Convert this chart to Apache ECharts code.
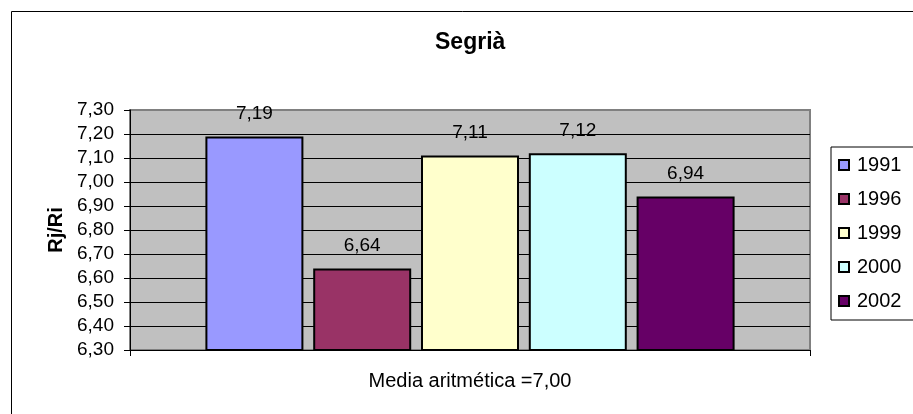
<!DOCTYPE html>
<html>
<head>
<meta charset="utf-8">
<script src="https://cdn.jsdelivr.net/npm/echarts@6/dist/echarts.min.js"></script>
<style>
html, body { margin: 0; padding: 0; background: #fff; }
#main { width: 913px; height: 414px; }
</style>
</head>
<body>
<div id="main"></div>
<script>
var categories = ['Media aritmética =7,00'];
var years = ['1991', '1996', '1999', '2000', '2002'];
var values = [7.19, 6.64, 7.11, 7.12, 6.94];
var colors = ['#9999ff', '#993366', '#ffffcc', '#ccffff', '#660066'];
var yTicks = { min: 6.3, max: 7.3, step: 0.1 };

var myChart = echarts.init(document.getElementById('main'));

function comma(v) {
	return Number(v).toFixed(2).replace('.', ',');
}

var series = [];
for (var i = 0; i < years.length; i++) {
	series.push({
		name: years[i],
		type: 'bar',
		data: [values[i]],
		barWidth: 98,
		barGap: '10%',
		itemStyle: {
			color: colors[i],
			borderColor: '#000',
			borderWidth: 2
		},
		label: {
			show: true,
			position: 'top',
			distance: 13,
			fontFamily: 'Liberation Sans',
			fontSize: 19,
			color: '#000',
			formatter: function(p) { return comma(p.value); }
		}
	});
}

var option = {
	animation: false,
	graphic: [{
		type: 'rect',
		shape: { x: 11.5, y: 11.5, width: 940, height: 440 },
		style: { fill: 'none', stroke: '#000', lineWidth: 1 },
		z: 0
	}],
	title: {
		text: 'Segrià',
		left: 430,
		top: 26,
		textStyle: {
			fontFamily: 'Liberation Sans',
			fontSize: 23,
			fontWeight: 'bold',
			color: '#000'
		}
	},
	legend: {
		orient: 'vertical',
		left: 831,
		top: 147,
		padding: [8, 20, 9, 7],
		itemWidth: 10,
		itemHeight: 10,
		itemGap: 14,
		icon: 'rect',
		borderColor: '#000',
		borderWidth: 1,
		textStyle: {
			fontFamily: 'Liberation Sans',
			fontSize: 20,
			color: '#000',
			padding: [0, 0, 0, 3]
		},
		data: years
	},
	grid: {
		left: 130,
		right: 103,
		top: 110,
		bottom: 64,
		show: true,
		backgroundColor: '#c0c0c0',
		borderColor: '#808080',
		borderWidth: 2
	},
	xAxis: {
		type: 'category',
		data: categories,
		axisLine: { lineStyle: { color: '#000', width: 1 } },
		axisTick: { show: true, length: 6, lineStyle: { color: '#000' } },
		axisLabel: {
			margin: 21,
			fontFamily: 'Liberation Sans',
			fontSize: 20,
			color: '#000'
		}
	},
	yAxis: {
		type: 'value',
		min: yTicks.min,
		max: yTicks.max,
		interval: yTicks.step,
		name: 'Rj/Ri',
		nameLocation: 'middle',
		nameGap: 60,
		nameTextStyle: {
			fontFamily: 'Liberation Sans',
			fontSize: 20,
			fontWeight: 'bold',
			color: '#000'
		},
		axisLine: { show: true, lineStyle: { color: '#000', width: 1 } },
		axisTick: { show: true, length: 6, lineStyle: { color: '#000' } },
		axisLabel: {
			margin: 16,
			fontFamily: 'Liberation Sans',
			fontSize: 19,
			color: '#000',
			formatter: comma
		},
		splitLine: {
			show: true,
			showMaxLine: false,
			lineStyle: { color: '#000', width: 1 }
		}
	},
	series: series
};

myChart.setOption(option);
</script>
</body>
</html>
